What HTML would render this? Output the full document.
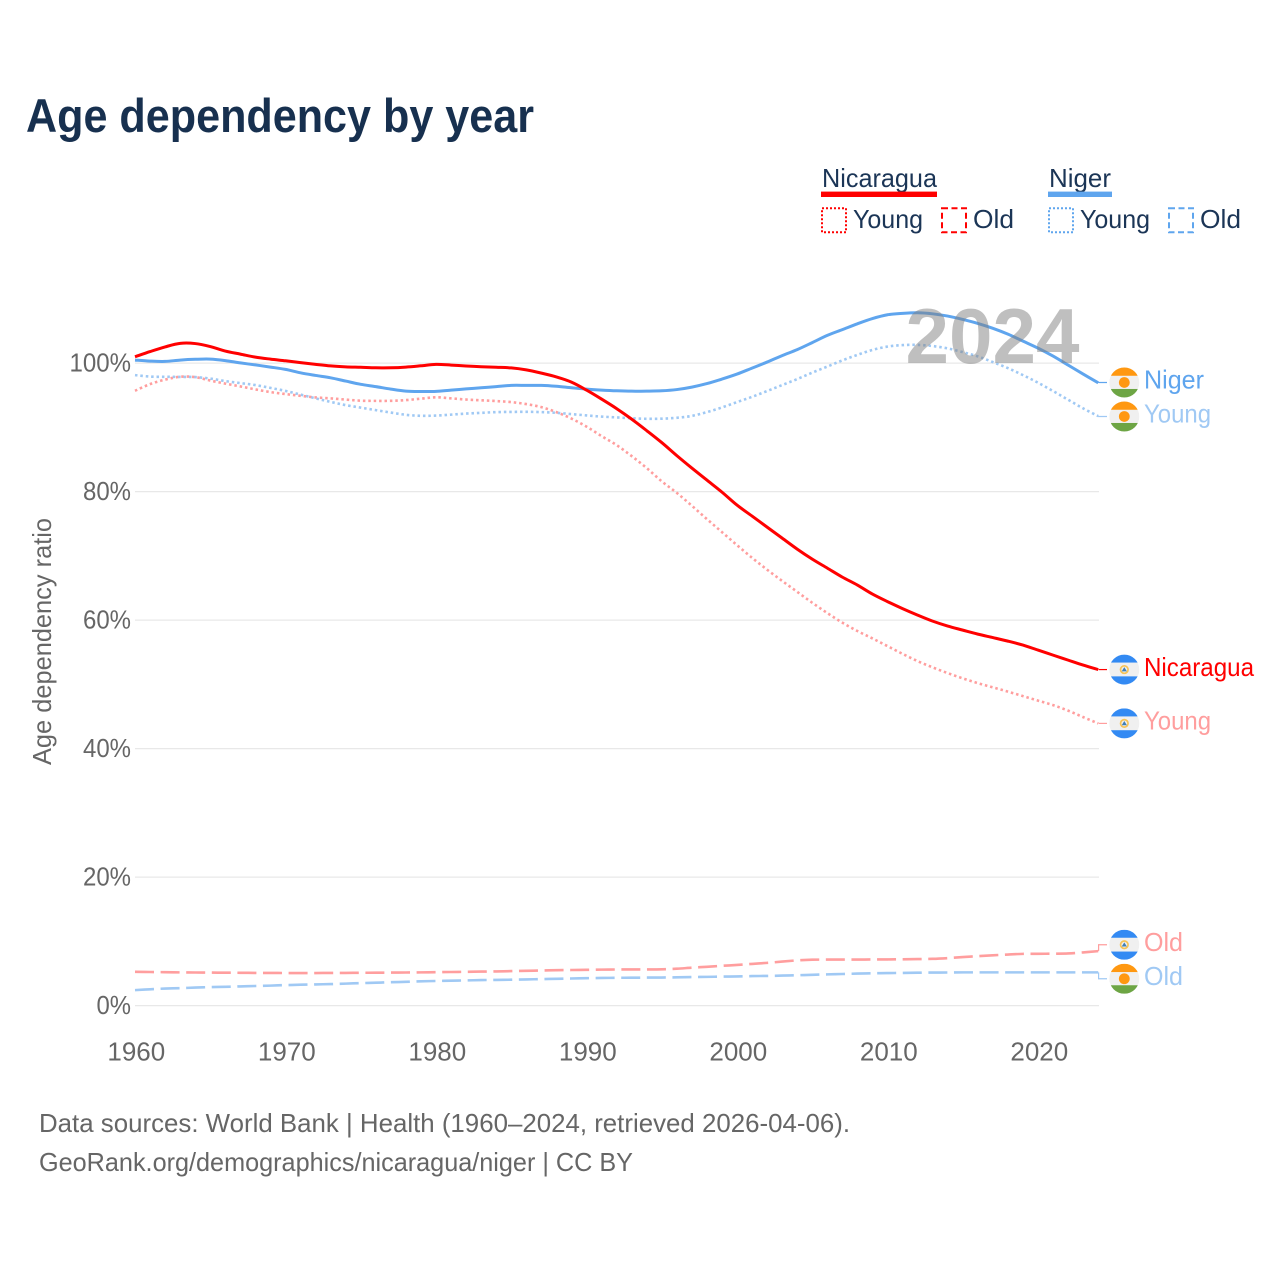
<!DOCTYPE html>
<html lang="en">
<head>
<meta charset="utf-8">
<title>Age dependency by year</title>
<style>
html,body{margin:0;padding:0;background:#fff;width:1280px;height:1280px;overflow:hidden}
svg{display:block;font-family:"Liberation Sans",sans-serif}
</style>
</head>
<body>
<svg id="chart" xmlns="http://www.w3.org/2000/svg" width="1280" height="1280" viewBox="0 0 1280 1280">
  <defs>
    <clipPath id="flag-clip"><circle cx="0" cy="0" r="15"/></clipPath>
  </defs>
  <rect x="0" y="0" width="1280" height="1280" fill="#fff"/>
  <text x="26" y="132" font-size="47" font-weight="700" fill="#17304f" textLength="508" lengthAdjust="spacingAndGlyphs">Age dependency by year</text>

  <g font-size="26" fill="#1b3556">
    <g>
      <text x="822" y="187" textLength="115" lengthAdjust="spacingAndGlyphs">Nicaragua</text>
      <rect x="821" y="191.6" width="116" height="5.4" fill="#ff0000"/>
      <rect x="822" y="208.2" width="24" height="24" fill="none" stroke="#ff0000" stroke-width="2" stroke-dasharray="2 2"/>
      <text x="853" y="228" textLength="70" lengthAdjust="spacingAndGlyphs">Young</text>
      <rect x="942" y="208.2" width="24" height="24" fill="none" stroke="#ff0000" stroke-width="2" stroke-dasharray="6 3.5"/>
      <text x="973" y="228" textLength="41" lengthAdjust="spacingAndGlyphs">Old</text>
    </g>
    <g>
      <text x="1049" y="187" textLength="62" lengthAdjust="spacingAndGlyphs">Niger</text>
      <rect x="1048" y="191.6" width="64" height="5.4" fill="#5fa5ee"/>
      <rect x="1049" y="208.2" width="24" height="24" fill="none" stroke="#5fa5ee" stroke-width="2" stroke-dasharray="2 2"/>
      <text x="1080" y="228" textLength="70" lengthAdjust="spacingAndGlyphs">Young</text>
      <rect x="1169" y="208.2" width="24" height="24" fill="none" stroke="#5fa5ee" stroke-width="2" stroke-dasharray="6 3.5"/>
      <text x="1200" y="228" textLength="41" lengthAdjust="spacingAndGlyphs">Old</text>
    </g>
  </g>

  <g id="grid"></g>
  <g id="y-ticks" font-size="26" fill="#666"></g>
  <g id="x-ticks" font-size="26" fill="#666"></g>
  <text transform="translate(51,641.5) rotate(-90)" text-anchor="middle" font-size="26" fill="#666" textLength="247" lengthAdjust="spacingAndGlyphs">Age dependency ratio</text>

  <g id="series" fill="none"></g>
  <text x="905.5" y="363" font-size="78" font-weight="700" fill="rgba(128,128,128,0.5)" textLength="174" lengthAdjust="spacingAndGlyphs">2024</text>
  <g id="end-labels"></g>

  <g font-size="26" fill="#666">
    <text x="39" y="1132" textLength="811" lengthAdjust="spacingAndGlyphs">Data sources: World Bank | Health (1960–2024, retrieved 2026-04-06).</text>
    <text x="39" y="1171" textLength="594" lengthAdjust="spacingAndGlyphs">GeoRank.org/demographics/nicaragua/niger | CC BY</text>
  </g>
</svg>
<script>
const firstYear = 1960;
const xTickLabels = [1960, 1970, 1980, 1990, 2000, 2010, 2020];
const yTickLabels = [0, 20, 40, 60, 80, 100];

const nicaraguaTotal = [100.98,101.79,102.52,103.07,103.04,102.57,101.87,101.40,100.93,100.62,100.36,100.08,99.80,99.56,99.42,99.35,99.27,99.27,99.38,99.58,99.80,99.69,99.55,99.44,99.35,99.25,98.94,98.44,97.85,97.04,95.80,94.40,92.92,91.28,89.49,87.63,85.60,83.66,81.79,79.92,77.90,76.19,74.47,72.76,71.05,69.49,68.09,66.69,65.45,64.05,62.88,61.79,60.78,59.84,59.07,58.44,57.82,57.28,56.73,56.11,55.33,54.55,53.77,53.00,52.30];
const nicaraguaYoung = [95.69,96.73,97.43,97.87,97.82,97.28,96.81,96.37,95.91,95.49,95.18,94.91,94.66,94.51,94.32,94.15,94.12,94.13,94.24,94.46,94.68,94.51,94.33,94.21,94.09,93.93,93.62,93.15,92.37,91.36,90.12,88.64,87.24,85.53,83.66,81.6,79.8,77.80,75.72,73.70,71.67,69.70,67.85,66.10,64.40,62.70,61.10,59.60,58.30,57.15,55.95,54.75,53.62,52.64,51.75,50.93,50.19,49.53,48.87,48.17,47.47,46.77,45.91,44.90,43.92];
const nicaraguaOld = [5.26,5.23,5.20,5.17,5.15,5.14,5.12,5.11,5.09,5.09,5.07,5.07,5.07,5.09,5.09,5.11,5.12,5.14,5.15,5.17,5.20,5.23,5.26,5.29,5.32,5.37,5.42,5.46,5.51,5.54,5.57,5.60,5.62,5.63,5.63,5.65,5.74,5.90,6.04,6.19,6.33,6.49,6.65,6.85,7.04,7.14,7.16,7.16,7.16,7.18,7.19,7.21,7.24,7.28,7.39,7.55,7.70,7.83,7.95,8.05,8.06,8.08,8.12,8.28,8.48];
const nigerTotal = [100.47,100.31,100.26,100.47,100.59,100.62,100.39,100.03,99.72,99.38,99.02,98.49,98.08,97.71,97.20,96.70,96.34,95.95,95.64,95.58,95.60,95.80,95.98,96.16,96.34,96.53,96.53,96.53,96.39,96.16,95.95,95.80,95.69,95.63,95.64,95.69,95.88,96.26,96.81,97.51,98.29,99.22,100.16,101.17,102.10,103.19,104.31,105.21,106.12,106.93,107.52,107.74,107.83,107.67,107.32,106.80,106.18,105.42,104.51,103.42,102.33,101.09,99.69,98.29,96.93];
const nigerYoung = [98.13,97.90,97.87,97.85,97.82,97.59,97.20,96.89,96.58,96.14,95.67,95.10,94.51,93.96,93.46,93.07,92.68,92.30,91.95,91.80,91.83,91.98,92.14,92.26,92.37,92.40,92.42,92.37,92.26,92.06,91.86,91.67,91.55,91.41,91.33,91.35,91.49,91.78,92.37,93.10,93.93,94.75,95.65,96.58,97.51,98.52,99.46,100.42,101.28,102.05,102.57,102.80,102.83,102.65,102.29,101.71,101.04,100.16,99.22,98.13,96.95,95.65,94.30,92.95,91.75];
const nigerOld = [2.41,2.54,2.65,2.72,2.80,2.88,2.93,2.99,3.05,3.11,3.19,3.25,3.30,3.35,3.42,3.50,3.56,3.64,3.70,3.78,3.83,3.88,3.92,3.97,4.00,4.03,4.08,4.12,4.17,4.22,4.27,4.30,4.33,4.34,4.36,4.37,4.40,4.44,4.47,4.51,4.54,4.59,4.62,4.67,4.73,4.79,4.86,4.92,4.98,5.03,5.06,5.09,5.12,5.14,5.15,5.17,5.17,5.17,5.17,5.17,5.17,5.17,5.17,5.17,5.17];

const NS = 'http://www.w3.org/2000/svg';
const RED = '#ff0000', RED_LIGHT = '#ff9e9e', BLUE = '#5fa5ee', BLUE_LIGHT = '#a0c9f4';
const DOTTED = '2.5 2.9', DASHED = '19 6.6';

function x(year) { return 135 + (year - 1960) * 15.05; }
function y(value) { return 1005.6 - value * 6.425; }
function el(tag, attrs, parent) {
  const node = document.createElementNS(NS, tag);
  for (const k in attrs) node.setAttribute(k, attrs[k]);
  parent.appendChild(node);
  return node;
}
/* Smooth curve through the yearly points (Catmull-Rom to Bezier) */
function smoothPath(values) {
  const pts = values.map(function (v, i) { return [x(firstYear + i), y(v)]; });
  let d = 'M' + pts[0][0].toFixed(2) + ' ' + pts[0][1].toFixed(2);
  for (let i = 0; i < pts.length - 1; i++) {
    const p0 = pts[Math.max(i - 1, 0)], p1 = pts[i], p2 = pts[i + 1], p3 = pts[Math.min(i + 2, pts.length - 1)];
    const c1x = p1[0] + (p2[0] - p0[0]) / 6, c1y = p1[1] + (p2[1] - p0[1]) / 6;
    const c2x = p2[0] - (p3[0] - p1[0]) / 6, c2y = p2[1] - (p3[1] - p1[1]) / 6;
    d += ' C' + c1x.toFixed(2) + ' ' + c1y.toFixed(2) + ' ' + c2x.toFixed(2) + ' ' + c2y.toFixed(2) + ' ' + p2[0].toFixed(2) + ' ' + p2[1].toFixed(2);
  }
  return d;
}

const gridGroup = document.getElementById('grid');
const yTickGroup = document.getElementById('y-ticks');
const xTickGroup = document.getElementById('x-ticks');
const seriesGroup = document.getElementById('series');
const endGroup = document.getElementById('end-labels');

yTickLabels.forEach(function (v) {
  const line = el('line', { x1: x(1960), x2: 1099, y1: y(v), y2: y(v), stroke: '#e8e8e8', 'stroke-width': 1.3 }, gridGroup);
  
  
  const label = el('text', { x: 131, y: y(v) + 8.6, 'text-anchor': 'end', lengthAdjust: 'spacingAndGlyphs' }, yTickGroup);
  const str = v + '%';
  label.textContent = str;
  label.setAttribute('textLength', (str.length - 1) * 13.5 + 21);
  
  
});

xTickLabels.forEach(function (t) {
  const label = el('text', { x: x(t) + 1.3, y: 1060.3, 'text-anchor': 'middle' }, xTickGroup);
  label.textContent = t;
  
  
});

const seriesList = [
  { key: 'nicaragua-old', values: nicaraguaOld, color: RED_LIGHT, width: 2.6, dash: DASHED, label: 'Old', flag: 'nicaragua' },
  { key: 'niger-old', values: nigerOld, color: BLUE_LIGHT, width: 2.6, dash: DASHED, label: 'Old', flag: 'niger' },
  { key: 'nicaragua-young', values: nicaraguaYoung, color: RED_LIGHT, width: 2.6, dash: DOTTED, label: 'Young', flag: 'nicaragua' },
  { key: 'niger-young', values: nigerYoung, color: BLUE_LIGHT, width: 2.6, dash: DOTTED, label: 'Young', flag: 'niger' },
  { key: 'niger-total', values: nigerTotal, color: BLUE, width: 3, dash: '', label: 'Niger', flag: 'niger' },
  { key: 'nicaragua-total', values: nicaraguaTotal, color: RED, width: 3, dash: '', label: 'Nicaragua', flag: 'nicaragua' }
];

seriesList.forEach(function (s) {
  const path = el('path', { d: smoothPath(s.values), stroke: s.color, 'stroke-width': s.width, 'stroke-linejoin': 'round' }, seriesGroup);
  if (s.dash) path.setAttribute('stroke-dasharray', s.dash);
  
  
});

/* End labels: start at each series' last value, then push close neighbours apart */
const ends = seriesList.map(function (s) {
  const last = s.values[s.values.length - 1];
  return { s: s, lineY: y(last), labelY: y(last) };
}).sort(function (a, b) { return a.lineY - b.lineY; });
const minGap = 34;
for (let i = 1; i < ends.length; i++) {
  const gap = ends[i].labelY - ends[i - 1].labelY;
  if (gap < minGap) {
    const shift = (minGap - gap) / 2;
    ends[i - 1].labelY -= shift;
    ends[i].labelY += shift;
  }
}

function drawFlag(kind, cy, key) {
  const g = el('g', { transform: 'translate(1124.3,' + cy.toFixed(2) + ')' }, endGroup);
  
  
  const c = el('g', { 'clip-path': 'url(#flag-clip)' }, g);
  el('rect', { x: -15, y: -15, width: 30, height: 30, fill: '#f0f0f0' }, c);
  if (kind === 'niger') {
    el('rect', { x: -15, y: -15, width: 30, height: 8.3, fill: '#ff9811' }, c);
    el('rect', { x: -15, y: 6.5, width: 30, height: 8.5, fill: '#6da544' }, c);
    el('circle', { cx: 0, cy: 0, r: 5.4, fill: '#ff9811' }, c);
  } else {
    el('rect', { x: -15, y: -15, width: 30, height: 8, fill: '#338af3' }, c);
    el('rect', { x: -15, y: 6.8, width: 30, height: 8.2, fill: '#338af3' }, c);
    el('circle', { cx: 0, cy: 0, r: 4.6, fill: '#f6c458' }, c);
    el('circle', { cx: 0, cy: 0, r: 2.9, fill: '#f0f0f0' }, c);
    el('path', { d: 'M-2.6 1.8 L0 -2.4 L2.6 1.8 Z', fill: '#3f7fb5' }, c);
  }
}

ends.forEach(function (e) {
  const s = e.s;
  const stepX = 1098.6;
  const conn = el('path', {
    d: 'M' + stepX + ' ' + e.lineY.toFixed(2) + ' L' + stepX + ' ' + e.labelY.toFixed(2) + ' L1107 ' + e.labelY.toFixed(2),
    fill: 'none', stroke: s.color, 'stroke-width': 1.2
  }, endGroup);
  
  
  drawFlag(s.flag, e.labelY, s.key);
  const widths = { Niger: 60, Nicaragua: 110, Young: 67, Old: 39 };
  const t = el('text', {
    x: 1144, y: e.labelY + 6.2, 'font-size': 26, fill: s.color,
    textLength: widths[s.label], lengthAdjust: 'spacingAndGlyphs'
  }, endGroup);
  t.textContent = s.label;
  
  
});
</script>
</body>
</html>
